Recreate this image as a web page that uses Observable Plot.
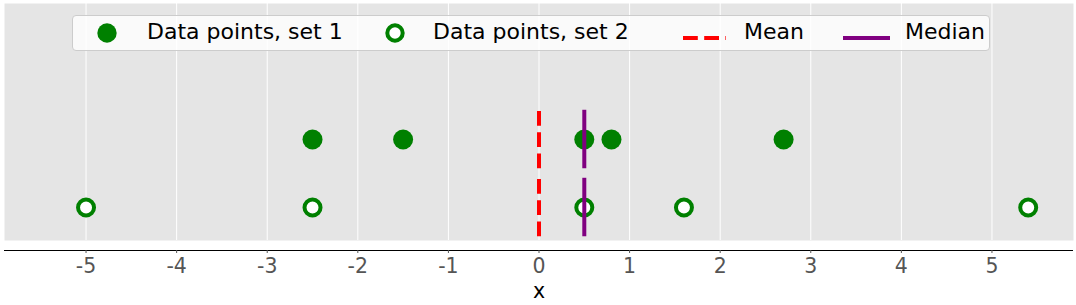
<!DOCTYPE html>
<html>
<head>
<meta charset="utf-8">
<script src="https://cdn.jsdelivr.net/npm/d3@7"></script>
<script src="https://cdn.jsdelivr.net/npm/@observablehq/plot@0.6"></script>
<style>
  html, body { margin: 0; padding: 0; background: #fff; }
  #wrap { position: relative; width: 1076px; height: 305px; font-family: "DejaVu Sans", sans-serif; }
  #legend { position: absolute; left: 72px; top: 15px; width: 918px; height: 36px;
            background: rgba(255,255,255,0.8); border: 1px solid #cccccc; border-radius: 4px; box-sizing: border-box; }
  .lbl { position: absolute; top: 1px; font-size: 22px; color: #000; white-space: nowrap; line-height: 30px; }
  .ico { position: absolute; }
</style>
</head>
<body>
<div id="wrap"></div>
<script>
// ---- data ----
const set1 = [-2.5, -1.5, 0.5, 0.8, 2.7];
const set2 = [-5, -2.5, 0.5, 1.6, 5.4];
const setLevels = [1, 0];            // vertical level of set 1 and set 2
const xTicks = [-5, -4, -3, -2, -1, 0, 1, 2, 3, 4, 5];
const legendLabels = ["Data points, set 1", "Data points, set 2", "Mean", "Median"];

const points1 = set1.map(v => ({x: v, y: setLevels[0]}));
const points2 = set2.map(v => ({x: v, y: setLevels[1]}));
const stats = [set1, set2].map((s, i) => ({
  mean: d3.mean(s), median: d3.median(s), y: setLevels[i]
}));
const half = 0.43;

const chart = Plot.plot({
  width: 1076, height: 305,
  marginLeft: 4, marginRight: 3, marginTop: 3, marginBottom: 65,
  style: {fontFamily: "DejaVu Sans, sans-serif", background: "transparent"},
  x: {domain: [-5.9, 5.9]},
  y: {domain: [-0.485, 3.0], axis: null},
  marks: [
    Plot.frame({fill: "#e5e5e5", stroke: null}),
    Plot.ruleX(xTicks, {stroke: "#ffffff", strokeWidth: 1}),
    Plot.ruleY([-0.485], {stroke: "#000", strokeWidth: 1.2, dy: 10}),
    Plot.axisX(xTicks, {anchor: "bottom", dy: 10, tickSize: 3, tickPadding: 5, fontSize: 20.5, color: "#555", label: null, stroke: "#555", tickFormat: d => String(d)}),
    Plot.text(["x"], {frameAnchor: "bottom", dy: 51, fontSize: 20.5, fill: "#000", lineAnchor: "middle"}),
    Plot.dot(points1, {x: "x", y: "y", r: 10, fill: "green", stroke: null}),
    Plot.dot(points2, {x: "x", y: "y", r: 8, fill: "white", stroke: "green", strokeWidth: 4}),
    Plot.ruleX(stats, {x: "mean", y1: d => d.y - half, y2: d => d.y + half, stroke: "red", strokeWidth: 4, strokeDasharray: "14.8,6.4"}),
    Plot.ruleX(stats, {x: "median", y1: d => d.y - half, y2: d => d.y + half, stroke: "purple", strokeWidth: 4})
  ]
});
const wrap = document.getElementById("wrap");
wrap.appendChild(chart);

// ---- legend (HTML overlay) ----
const legend = document.createElement("div");
legend.id = "legend";
const L = 72, T = 15;
const icons = [
  `<svg width="24" height="24"><circle cx="12" cy="12" r="9.7" fill="green"/></svg>`,
  `<svg width="24" height="24"><circle cx="12" cy="12" r="7.7" fill="white" stroke="green" stroke-width="4"/></svg>`,
  `<svg width="50" height="10"><line x1="1" x2="44" y1="5" y2="5" stroke="red" stroke-width="4" stroke-dasharray="14.8,6.4"/></svg>`,
  `<svg width="50" height="10"><line x1="1" x2="48" y1="5" y2="5" stroke="purple" stroke-width="4"/></svg>`
];
const iconPos = [[94 - L, 20 - T], [382 - L, 20 - T], [681 - L, 27 - T], [841 - L, 27 - T]];
const textPos = [146 - L, 432 - L, 743 - L, 904 - L];
legendLabels.forEach((lab, i) => {
  const ic = document.createElement("div");
  ic.className = "ico";
  ic.style.left = iconPos[i][0] + "px";
  ic.style.top = iconPos[i][1] + "px";
  ic.innerHTML = icons[i];
  legend.appendChild(ic);
  const t = document.createElement("div");
  t.className = "lbl";
  t.style.left = textPos[i] + "px";
  t.textContent = lab;
  legend.appendChild(t);
});
wrap.appendChild(legend);
</script>
</body>
</html>
